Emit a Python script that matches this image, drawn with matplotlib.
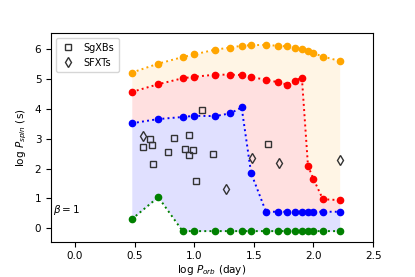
import matplotlib
matplotlib.use("Agg")
import matplotlib.pyplot as plt
import numpy as np

plt.rcParams['font.size'] = 7.5

# orbital period grid (log days)
log_porb = np.log10([3, 5, 8, 10, 15, 20, 25, 30, 40, 50, 60, 70, 80, 90, 100, 120, 166])

# boundaries in log Pspin (s)
green = [0.30, 1.04, -0.10, -0.10, -0.10, -0.10, -0.10, -0.10, -0.10, -0.10, -0.10, -0.10, -0.10, -0.10, -0.10, -0.10, -0.10]
blue = [3.52, 3.66, 3.73, 3.77, 3.76, 3.85, 4.05, 1.85, 0.55, 0.55, 0.55, 0.55, 0.55, 0.55, 0.55, 0.55, 0.55]
red = [4.57, 4.83, 5.03, 5.08, 5.15, 5.15, 5.14, 5.07, 4.98, 4.90, 4.82, 4.95, 5.05, 2.09, 1.65, 0.97, 0.94]
orange = [5.22, 5.52, 5.74, 5.83, 5.99, 6.06, 6.12, 6.14, 6.15, 6.12, 6.10, 6.04, 6.00, 5.94, 5.87, 5.76, 5.61]

# observed systems
sgxb_x = [1.063, 0.629, 0.831, 0.954, 0.568, 0.646, 0.784, 0.921, 0.988, 0.954, 1.156, 0.652, 1.019, 1.617]
sgxb_y = [3.98, 2.98, 3.04, 3.12, 2.73, 2.80, 2.56, 2.65, 2.62, 2.45, 2.48, 2.15, 1.59, 2.84]
sfxt_x = [0.573, 1.268, 1.483, 1.710, 2.219]
sfxt_y = [3.10, 1.32, 2.37, 2.19, 2.28]

fig, ax = plt.subplots(figsize=(4.15, 2.77), dpi=100)
fig.subplots_adjust(left=0.123, right=0.899, top=0.881, bottom=0.128)

ax.fill_between(log_porb, green, blue, color='blue', alpha=0.12, lw=0)
ax.fill_between(log_porb, blue, red, color='red', alpha=0.12, lw=0)
ax.fill_between(log_porb, red, orange, color='orange', alpha=0.1, lw=0)

for ys, col in [(green, 'green'), (blue, 'blue'), (red, 'red'), (orange, 'orange')]:
    ax.plot(log_porb, ys, ':', color=col, marker='o', ms=4.5, lw=1.4)

ax.plot(sgxb_x, sgxb_y, 's', mfc='none', mec='#333333', ms=4.5, mew=1.0, ls='none', label='SgXBs')
ax.plot(sfxt_x, sfxt_y, 'd', mfc='none', mec='#333333', ms=5, mew=1.0, ls='none', label='SFXTs')

ax.text(-0.18, 0.6, r'$\beta = 1$', ha='left', va='center')

ax.set_xlim(-0.2, 2.5)
ax.set_ylim(-0.45, 6.55)
ax.set_xticks([0.0, 0.5, 1.0, 1.5, 2.0, 2.5])
ax.set_xlabel(r'log $P_{orb}$ (day)', labelpad=1.5)
ax.set_ylabel(r'log $P_{spin}$ (s)')
ax.legend(loc='upper left', fontsize=7, handlelength=1.5, borderpad=0.5)

fig.savefig('out.png', dpi=100)
